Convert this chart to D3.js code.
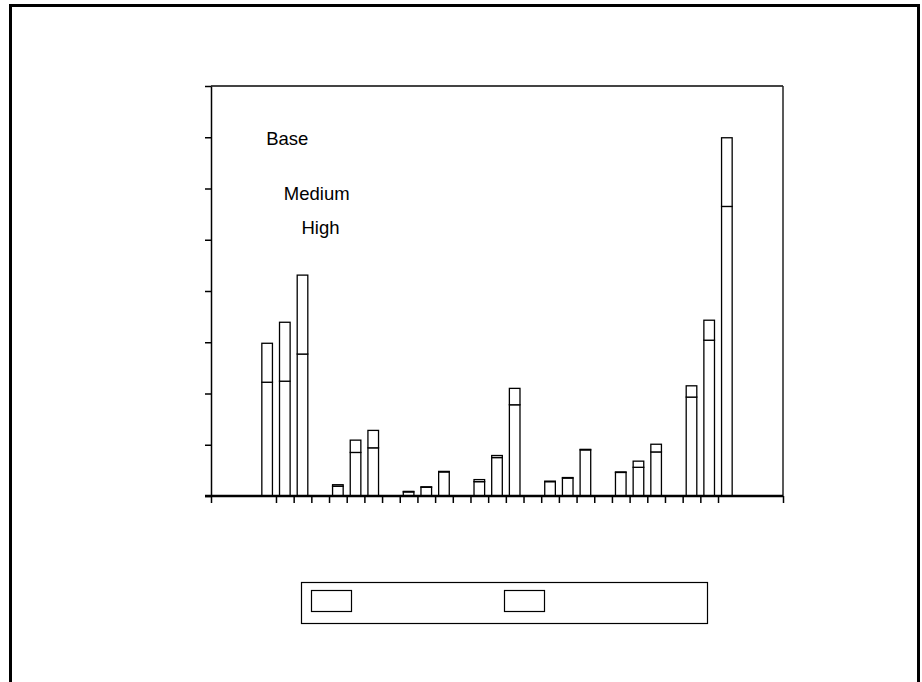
<!DOCTYPE html>
<html lang="en">
<head>
<meta charset="UTF-8">
<title>Stacked bars by scenario</title>
<script src="https://d3js.org/d3.v7.min.js"></script>
<style>
  body { margin: 0; background: #fff; }
  svg { display: block; }
  .lbl { font-family: "Liberation Sans", Arial, sans-serif; font-size: 18.5px; fill: #000; }
</style>
</head>
<body>
<svg id="chart" width="922" height="682"></svg>
<script>
// scenarios shown inside each group, groups along the x axis
const scenarios = ["Base", "Medium", "High"];
const groups = ["1", "2", "3", "4", "5", "6", "7"];
const series = ["Lower", "Upper"];   // legend entries (no visible labels in source)

// lower segment per group, one value per scenario
const lowerVals = [
  [22.2, 22.4, 27.7],
  [1.9, 8.5, 9.4],
  [0.8, 1.7, 4.7],
  [2.8, 7.5, 17.8],
  [2.8, 3.5, 9.0],
  [4.6, 5.6, 8.6],
  [19.3, 30.4, 56.5]
];
// upper segment stacked on top
const upperVals = [
  [7.6, 11.5, 15.4],
  [0.3, 2.4, 3.4],
  [0.1, 0.1, 0.1],
  [0.4, 0.4, 3.2],
  [0.1, 0.1, 0.1],
  [0.1, 1.2, 1.5],
  [2.2, 3.9, 13.4]
];
const yTicks = [0, 10, 20, 30, 40, 50, 60, 70, 80];

const svg = d3.select("#chart");
const plot = { left: 211, right: 783, top: 86, bottom: 496 };

// outer frame (bottom edge runs off the page)
svg.append("path")
  .attr("d", "M10.5,700 V5.5 H918.5 V700")
  .attr("fill", "none").attr("stroke", "#000").attr("stroke-width", 3);

// slot layout: 3 bars per group, one empty slot between groups
const perGroup = scenarios.length + 1;
const nSlots = groups.length * perGroup - 1;
const pad = 2.675;
const x = d3.scaleLinear().domain([-pad, nSlots + pad]).range([plot.left, plot.right]);
const y = d3.scaleLinear().domain([0, 80]).range([plot.bottom, plot.top]);
const barW = (x(1) - x(0)) * 0.6;

const bars = [];
groups.forEach((g, gi) => {
  scenarios.forEach((s, si) => {
    const lo = lowerVals[gi][si], up = upperVals[gi][si];
    bars.push({ slot: gi * perGroup + si, lo: lo, hi: lo + up });
  });
});

// top and right plot borders
svg.append("line")
  .attr("x1", plot.left).attr("x2", plot.right).attr("y1", plot.top).attr("y2", plot.top)
  .attr("stroke", "#444").attr("stroke-width", 2);
svg.append("line")
  .attr("x1", plot.right).attr("x2", plot.right).attr("y1", plot.top).attr("y2", plot.bottom)
  .attr("stroke", "#222").attr("stroke-width", 1.5);

// y axis, ticks only
const yAxis = svg.append("g")
  .attr("transform", `translate(${plot.left},0)`)
  .call(d3.axisLeft(y).tickValues(yTicks).tickSize(6).tickSizeOuter(0).tickFormat(""));
yAxis.selectAll("line, path").attr("stroke", "#000").attr("stroke-width", 1.5);

// x axis, ticks between slots plus the ends
const xTicks = [-pad].concat(d3.range(1, nSlots), [nSlots + pad]);
const xAxis = svg.append("g")
  .attr("transform", `translate(0,${plot.bottom})`)
  .call(d3.axisBottom(x).tickValues(xTicks).tickSize(7).tickSizeOuter(0).tickFormat(""));
xAxis.selectAll("line").attr("stroke", "#000").attr("stroke-width", 1.5);
xAxis.select("path").attr("stroke", "none");

// bars: lower and upper segments
const bg = svg.append("g");
bg.selectAll("rect.lo").data(bars).join("rect")
  .attr("class", "lo")
  .attr("x", d => x(d.slot + 0.5) - barW / 2)
  .attr("width", barW)
  .attr("y", d => y(d.lo))
  .attr("height", d => y(0) - y(d.lo))
  .attr("fill", "#fff").attr("stroke", "#000").attr("stroke-width", 1.3);
bg.selectAll("rect.up").data(bars).join("rect")
  .attr("class", "up")
  .attr("x", d => x(d.slot + 0.5) - barW / 2)
  .attr("width", barW)
  .attr("y", d => y(d.hi))
  .attr("height", d => y(d.lo) - y(d.hi))
  .attr("fill", "#fff").attr("stroke", "#000").attr("stroke-width", 1.3);

// heavy baseline
svg.append("line")
  .attr("x1", plot.left - 6).attr("x2", plot.right).attr("y1", y(0)).attr("y2", y(0))
  .attr("stroke", "#000").attr("stroke-width", 2.5);

// scenario labels, starting at the centre of each bar of the first group
const labelY = [145, 200, 234];
svg.selectAll("text.lbl").data(scenarios).join("text")
  .attr("class", "lbl")
  .attr("x", (d, i) => x(i + 0.5) - 1)
  .attr("y", (d, i) => labelY[i])
  .text(d => d);

// legend box with two empty swatches
const lg = svg.append("g");
lg.append("rect")
  .attr("x", 301.5).attr("y", 582.5).attr("width", 406).attr("height", 41)
  .attr("fill", "none").attr("stroke", "#000").attr("stroke-width", 1.2);
lg.selectAll("rect.sw").data(series).join("rect")
  .attr("class", "sw")
  .attr("x", (d, i) => 311.5 + i * 193)
  .attr("y", 590.5).attr("width", 40).attr("height", 21)
  .attr("fill", "#fff").attr("stroke", "#000").attr("stroke-width", 1.2);
</script>
</body>
</html>
